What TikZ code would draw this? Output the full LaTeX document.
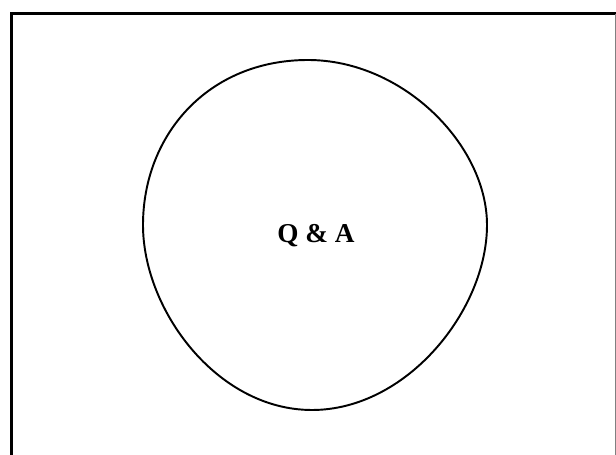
\documentclass[tikz,border=0pt]{standalone}
\usepackage{fontspec}
\setmainfont{Liberation Serif}
\usetikzlibrary{positioning}
\tikzset{
  frameline/.style={line width=1.7pt, black},
  blobline/.style={line width=1.1pt, black},
  qatext/.style={font=\fontsize{15.5}{18}\selectfont\bfseries}
}
\begin{document}
\begin{tikzpicture}[x=0.02cm, y=-0.02cm]
  \useasboundingbox (0,0) rectangle (616,455);

  % Frame
  \draw[frameline] (11.5,455) -- (11.5,14) -- (616,14);
  \draw[gray, line width=0.6pt] (615.3,14) -- (615.3,455);

  % Blob
  \draw[blobline] (308,60)
    .. controls (403,60) and (487,145) .. (487,225)
    .. controls (487,310) and (407,410) .. (312,410)
    .. controls (217,410) and (143,310) .. (143,225)
    .. controls (143,135) and (208,60) .. cycle;

  % Label
  \node[qatext] (qa) at (316,236) {Q \& A};
\end{tikzpicture}
\end{document}
